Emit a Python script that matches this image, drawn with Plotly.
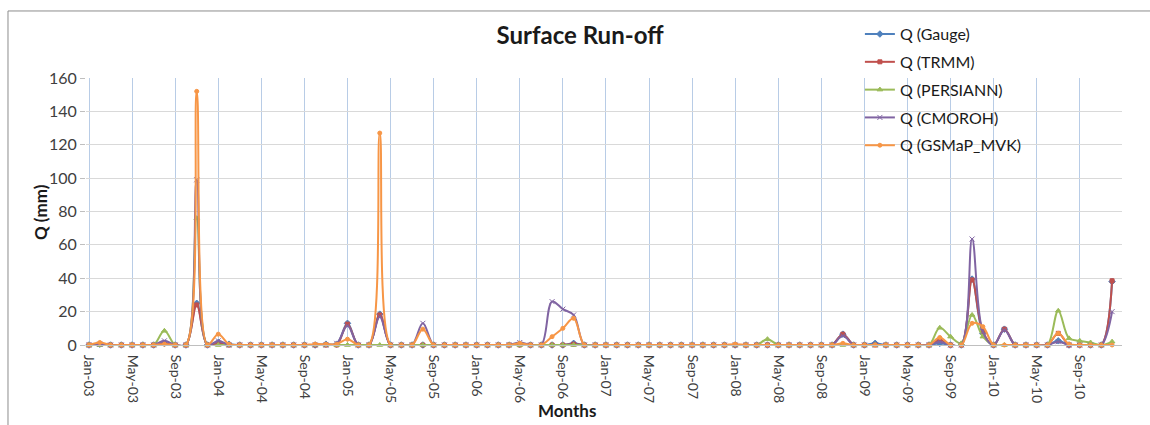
import plotly.graph_objects as go

# Monthly surface run-off, Jan 2003 - Dec 2010 (96 months)
years = list(range(2003, 2011))
month_names = ["Jan", "Feb", "Mar", "Apr", "May", "Jun",
               "Jul", "Aug", "Sep", "Oct", "Nov", "Dec"]
months = [f"{m}-{str(y)[2:]}" for y in years for m in month_names]


def series(nonzero):
    vals = [0.0] * len(months)
    for idx, v in nonzero.items():
        vals[idx] = v
    return vals


q_gauge = series({1: 0.5, 7: 1, 10: 25, 12: 1.5, 13: 0.5, 22: 0.5, 23: 0.5,
                  24: 13, 27: 18.5, 40: 0.5, 45: 1, 70: 6.5, 73: 1, 79: 1,
                  82: 39.5, 83: 7, 85: 9.5, 90: 2.5, 95: 38})
q_trmm = series({1: 0.5, 7: 1, 10: 24, 12: 1, 24: 12.5, 27: 18, 45: 0.5,
                 70: 6.5, 79: 3, 82: 39, 83: 8, 85: 9.5, 90: 7, 95: 38.5})
q_persiann = series({7: 8.5, 10: 76, 63: 3.5, 79: 10.3, 80: 5, 81: 1,
                     82: 18, 83: 5, 90: 20.5, 91: 4, 92: 2.5, 93: 1.5, 95: 2})
q_cmoroh = series({1: 0.5, 7: 2.5, 10: 99, 12: 2.5, 23: 1, 24: 11.5, 27: 17,
                   31: 13, 40: 1.5, 43: 26, 44: 21.5, 45: 18, 70: 5.5, 79: 2,
                   82: 63.5, 83: 8, 85: 9, 90: 2, 95: 20})
q_gsmap = series({1: 1.5, 7: 0.5, 10: 152, 12: 6.5, 13: 0.5, 21: 0.5, 22: 0.5,
                  23: 0.5, 24: 3.5, 27: 127, 31: 9.5, 40: 1, 43: 5, 44: 10,
                  45: 16, 60: 0.5, 70: 1, 79: 4.5, 82: 13, 83: 11, 90: 7,
                  91: 0.5})

y_ticks = [0, 20, 40, 60, 80, 100, 120, 140, 160]
tick_step = 4

FONT = "Lato, 'Open Sans', sans-serif"
x_idx = list(range(len(months)))

traces = [
    ("Q (Gauge)", q_gauge, "#4F81BD", "diamond", 5),
    ("Q (TRMM)", q_trmm, "#C0504D", "square", 4),
    ("Q (PERSIANN)", q_persiann, "#9BBB59", "triangle-up", 5),
    ("Q (CMOROH)", q_cmoroh, "#8064A2", "x-thin", 5),
    ("Q (GSMaP_MVK)", q_gsmap, "#F79646", "circle", 4),
]

fig = go.Figure()
for i, (name, vals, color, sym, size) in enumerate(traces):
    fig.add_trace(go.Scatter(
        x=x_idx, y=vals, name=name, mode="lines+markers",
        line=dict(color=color, width=2, shape="spline", smoothing=1.0),
        marker=dict(symbol=sym, size=size, color=color,
                    line=dict(color=color, width=1)),
        cliponaxis=False, legendgroup=f"g{i}",
    ))

fig.update_layout(
    width=1150, height=425,
    margin=dict(l=86, r=28, t=78, b=80),
    paper_bgcolor="white", plot_bgcolor="white",
    font=dict(family=FONT, color="#404040", size=14),
    title=dict(text="<b>Surface Run-off</b>", x=580 / 1150, xanchor="center",
               y=1 - 36 / 425, yanchor="middle",
               font=dict(family=FONT, size=24, color="#1a1a1a")),
    legend=dict(x=0.747, xanchor="left", y=1.228, yanchor="top",
                bgcolor="rgba(0,0,0,0)", tracegroupgap=4,
                font=dict(family=FONT, size=16, color="#1a1a1a"),
                itemwidth=30),
    showlegend=True,
)

fig.update_xaxes(
    range=[-0.28, 95.92],
    tickmode="array",
    tickvals=x_idx[::tick_step],
    ticktext=months[::tick_step],
    tickangle=90,
    tickfont=dict(family=FONT, size=14, color="#404040"),
    ticklabelstandoff=6,
    showgrid=True, gridcolor="#B8CCE6", gridwidth=1,
    showline=True, linecolor="#BFBFBF", linewidth=1,
    zeroline=False, ticks="",
)
fig.update_yaxes(
    range=[0, 160],
    tickmode="array", tickvals=y_ticks,
    tickfont=dict(family=FONT, size=16, color="#404040"),
    showgrid=True, gridcolor="#D9D9D9", gridwidth=1,
    showline=False, zeroline=False,
    ticks="outside", ticklen=5, tickcolor="#BFBFBF",
)

# axis titles
fig.add_annotation(text="<b>Q (mm)</b>", xref="paper", yref="paper",
                   x=(40 - 86) / 1036, y=(345 - 212) / 267,
                   xanchor="center", yanchor="middle", textangle=-90,
                   showarrow=False,
                   font=dict(family=FONT, size=17, color="#1a1a1a"))
fig.add_annotation(text="<b>Months</b>", xref="paper", yref="paper",
                   x=(567 - 86) / 1036, y=(345 - 410) / 267,
                   xanchor="center", yanchor="middle", showarrow=False,
                   font=dict(family=FONT, size=17, color="#1a1a1a"))

# chart frame
fig.add_shape(type="rect", xref="paper", yref="paper",
              x0=-0.0753, x1=1.04, y0=-0.33, y1=1.251,
              line=dict(color="#8C8C8C", width=1), fillcolor="rgba(0,0,0,0)",
              layer="below")

fig.write_html("out.html")
